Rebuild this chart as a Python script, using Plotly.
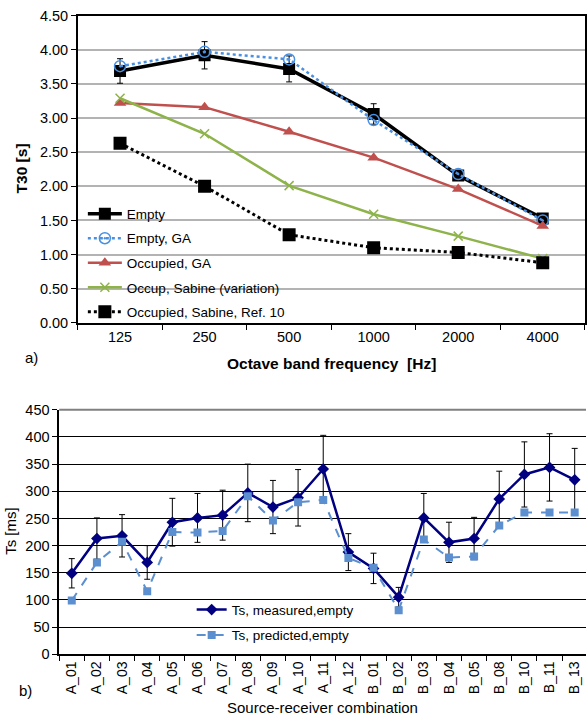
import plotly.graph_objects as go

W, H = 587, 724
# observed vertical placement of the photographed page: shot_y = Y0 + SY * fig_y
Y0, SY = 7.3, 0.9776

# ---------- data: top chart ----------
freq = ["125", "250", "500", "1000", "2000", "4000"]
empty = [3.69, 3.92, 3.72, 3.06, 2.16, 1.53]
empty_err = [0.18, 0.20, 0.19, 0.15, 0.04, 0.03]
empty_ga = [3.76, 3.97, 3.86, 2.97, 2.18, 1.50]
occ_ga = [3.22, 3.16, 2.80, 2.42, 1.96, 1.42]
occ_sabine_var = [3.29, 2.77, 2.01, 1.59, 1.27, 0.94]
occ_sabine_ref10 = [2.63, 2.00, 1.29, 1.10, 1.03, 0.88]
top_yticks = [0, 0.5, 1.0, 1.5, 2.0, 2.5, 3.0, 3.5, 4.0, 4.5]

# ---------- data: bottom chart ----------
combos = ["A_01", "A_02", "A_03", "A_04", "A_05", "A_06", "A_07", "A_08", "A_09",
          "A_10", "A_11", "A_12", "B_01", "B_02", "B_03", "B_04", "B_05", "B_08",
          "B_10", "B_11", "B_13"]
ts_measured = [149, 213, 218, 169, 243, 251, 256, 297, 271, 288, 341, 188,
               158, 105, 251, 206, 213, 286, 331, 344, 321]
ts_err = [27, 38, 39, 31, 44, 45, 46, 53, 49, 52, 62, 34,
          28, 18, 45, 37, 39, 51, 60, 62, 58]
ts_predicted = [99, 169, 207, 116, 225, 224, 227, 291, 246, 280, 284, 177,
                159, 81, 211, 178, 180, 237, 261, 261, 261]

FONT = "Liberation Sans, Arial, sans-serif"

def px_x(p):
    return min(1.0, max(0.0, p / W))

def px_y(p):
    f = (p - Y0) / SY
    return min(1.0, max(0.0, 1 - f / H))

fig = go.Figure()

# ---------- top traces ----------
fig.add_trace(go.Scatter(
    x=freq, y=empty, name="Empty", legendgroup="a1", legend="legend",
    mode="lines+markers", line=dict(color="black", width=3.5),
    marker=dict(symbol="square", size=12, color="black"),
    error_y=dict(type="data", array=empty_err, color="black", thickness=1, width=3),
    xaxis="x", yaxis="y"))
fig.add_trace(go.Scatter(
    x=freq, y=empty_ga, name="Empty, GA", legendgroup="a2", legend="legend",
    mode="lines+markers", line=dict(color="#4a90e2", width=2.5, dash="dot"),
    marker=dict(symbol="circle-open-dot", size=11, color="#4a90e2", line=dict(width=1.5)),
    xaxis="x", yaxis="y"))
fig.add_trace(go.Scatter(
    x=freq, y=occ_ga, name="Occupied, GA", legendgroup="a3", legend="legend",
    mode="lines+markers", line=dict(color="#c0504d", width=2.5),
    marker=dict(symbol="triangle-up", size=11, color="#c0504d"),
    xaxis="x", yaxis="y"))
fig.add_trace(go.Scatter(
    x=freq, y=occ_sabine_var, name="Occup, Sabine (variation)", legendgroup="a4", legend="legend",
    mode="lines+markers", line=dict(color="#8db34a", width=2.5),
    marker=dict(symbol="x-thin-open", size=9, color="#8db34a", line=dict(width=1.5, color="#8db34a")),
    xaxis="x", yaxis="y"))
fig.add_trace(go.Scatter(
    x=freq, y=occ_sabine_ref10, name="Occupied, Sabine, Ref. 10", legendgroup="a5", legend="legend",
    mode="lines+markers", line=dict(color="black", width=3, dash="dot"),
    marker=dict(symbol="square", size=13, color="black"),
    xaxis="x", yaxis="y"))

# ---------- bottom traces ----------
fig.add_trace(go.Scatter(
    x=combos, y=ts_measured, name="Ts, measured,empty", legendgroup="b1", legend="legend2",
    mode="lines+markers", line=dict(color="#000080", width=2.5),
    marker=dict(symbol="diamond", size=9, color="#000080"),
    error_y=dict(type="data", array=ts_err, color="black", thickness=1, width=3),
    xaxis="x2", yaxis="y2"))
fig.add_trace(go.Scatter(
    x=combos, y=ts_predicted, name="Ts, predicted,empty", legendgroup="b2", legend="legend2",
    mode="lines+markers", line=dict(color="#5b8fd0", width=2, dash="dash"),
    marker=dict(symbol="square", size=8, color="#5b8fd0"),
    xaxis="x2", yaxis="y2"))

tick_font = dict(family=FONT, size=14.5, color="black")

fig.update_layout(
    width=W, height=H,
    margin=dict(l=0, r=0, t=0, b=0),
    paper_bgcolor="white", plot_bgcolor="white",
    font=dict(family=FONT, color="black"),
    xaxis=dict(domain=[px_x(77.9), px_x(586)], anchor="y", type="category",
               tickson="boundaries", ticks="outside", ticklen=5, tickcolor="black",
               showline=True, linecolor="black", linewidth=1.5, mirror=True,
               showgrid=False, tickfont=tick_font, range=[-0.5, 5.5]),
    yaxis=dict(domain=[px_y(322), px_y(15)], anchor="x", range=[0, 4.5],
               tickvals=top_yticks, tickformat=".2f", ticks="outside", ticklen=5,
               tickcolor="black", showline=True, linecolor="black", linewidth=1.5,
               mirror=True, showgrid=True, gridcolor="#b3b3b3", gridwidth=1.5,
               zeroline=False, tickfont=tick_font),
    xaxis2=dict(domain=[px_x(59.3), 1.0], anchor="y2", type="category",
                tickson="boundaries", ticks="outside", ticklen=5, tickcolor="black",
                showline=True, linecolor="black", linewidth=1.5,
                showgrid=False, tickangle=-90, tickfont=dict(family=FONT, size=14, color="black"),
                range=[-0.5, 20.45]),
    yaxis2=dict(domain=[px_y(653.3), px_y(409)], anchor="x2", range=[0, 450],
                dtick=50, ticks="outside", ticklen=5, tickcolor="black",
                showline=True, linecolor="black", linewidth=1.5,
                showgrid=True, gridcolor="black", gridwidth=1,
                zeroline=False, tickfont=tick_font),
    legend=dict(x=px_x(83), y=1 - 194.7 / H, xanchor="left", yanchor="top",
                bgcolor="rgba(0,0,0,0)", itemwidth=34, tracegroupgap=4,
                font=dict(family=FONT, size=13.5, color="black")),
    legend2=dict(x=px_x(192), y=1 - 599.5 / H, xanchor="left", yanchor="top",
                 bgcolor="rgba(0,0,0,0)", itemwidth=30, tracegroupgap=5,
                 font=dict(family=FONT, size=13.5, color="black")),
    showlegend=True,
)

# gray top border of lower panel
fig.add_shape(type="line", xref="x2 domain", yref="y2 domain", x0=0, x1=1, y0=1, y1=1,
              line=dict(color="#808080", width=2))

annots = [
    dict(text="<b>T30 [s]</b>", x=px_x(21.7), y=px_y(168), textangle=-90,
         font=dict(size=15.5)),
    dict(text="<b>Octave band frequency  [Hz]</b>", x=px_x(332), y=px_y(363),
         font=dict(size=15.5)),
    dict(text="a)", x=px_x(32), y=px_y(357), font=dict(size=15)),
    dict(text="Ts [ms]", x=px_x(11), y=px_y(530), textangle=-90, font=dict(size=15)),
    dict(text="Source-receiver combination", x=px_x(323.5), y=px_y(707), font=dict(size=15)),
    dict(text="b)", x=px_x(26), y=px_y(690), font=dict(size=15)),
]
for a in annots:
    fig.add_annotation(xref="paper", yref="paper", showarrow=False,
                       xanchor="center", yanchor="middle", **a)

fig.write_html(
    "out.html",
    config={"displayModeBar": False},
    post_script="document.documentElement.style.margin='0';"
                "document.body.style.margin='0';document.body.style.padding='0';"
                "document.documentElement.style.overflow='hidden';",
)
